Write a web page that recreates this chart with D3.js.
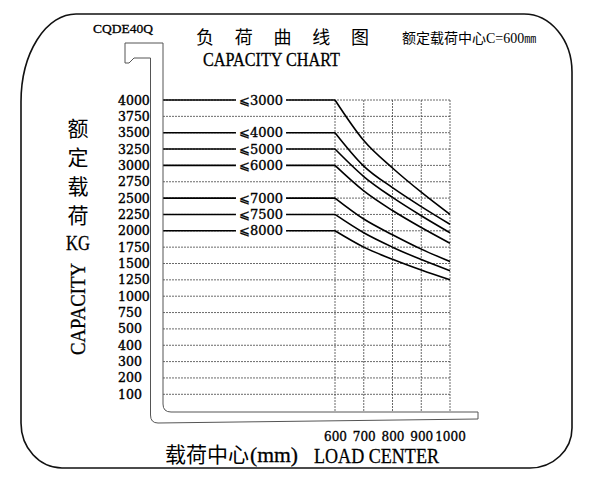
<!DOCTYPE html>
<html>
<head>
<meta charset="utf-8">
<script src="https://cdn.jsdelivr.net/npm/d3@7"></script>
<style>
	body { margin: 0; background: #fff; }
	svg { display: block; }
</style>
</head>
<body>
<div id="chart"></div>
<script>
// load centres (mm) along the bottom
const loadCenters = [600, 700, 800, 900, 1000];

// capacity tick labels (kg), evenly spaced rows, top to bottom
const capacityTicks = [4000, 3750, 3500, 3250, 3000, 2750, 2500, 2250, 2000,
	1750, 1500, 1250, 1000, 750, 500, 400, 300, 200, 100];

// lift height labels (mm)
const heightLabels = ["⩽3000", "⩽4000", "⩽5000", "⩽6000", "⩽7000", "⩽7500", "⩽8000"];

// capacity (kg) at each load centre, one array per lift height
const cap3000 = [4000, 3380, 2960, 2590, 2250];
const cap4000 = [3500, 2990, 2660, 2370, 2100];
const cap5000 = [3250, 2830, 2510, 2230, 1970];
const cap6000 = [3000, 2610, 2310, 2050, 1810];
const cap7000 = [2500, 2180, 1940, 1720, 1530];
const cap7500 = [2250, 1970, 1750, 1560, 1390];
const cap8000 = [2000, 1750, 1565, 1400, 1250];

const yTitleChars = ["额", "定", "载", "荷"];

const width = 591, height = 487;
const plot = {left: 163, top: 100, bottom: 412, row0: 100, rowN: 394.3};
const serif = "'Liberation Serif', 'DejaVu Serif', serif";
const numFont = "'DejaVu Serif', serif";
const cjk = "'Noto Sans CJK SC', sans-serif";

const series = [cap3000, cap4000, cap5000, cap6000, cap7000, cap7500, cap8000]
	.map(function(caps, i) {
		return {
			label: heightLabels[i],
			values: caps.map(function(c, j) { return {lc: loadCenters[j], cap: c}; })
		};
	});

const svg = d3.select("#chart").append("svg")
	.attr("width", width)
	.attr("height", height);

const x = d3.scaleLinear().domain([600, 1000]).range([335, 450]);
const yRow = d3.scalePoint().domain(capacityTicks).range([plot.row0, plot.rowN]);
// piecewise linear scale through the (uneven) tick rows
const y = d3.scaleLinear().domain(capacityTicks).range(capacityTicks.map(yRow));

// outer rounded frame
const fr = {l: 21, r: 572, t: 14, b: 468};
svg.append("path")
	.attr("d", "M" + (fr.l + 55) + "," + fr.t +
		" H" + (fr.r - 48) +
		" A48,58 0 0 1 " + fr.r + "," + (fr.t + 58) +
		" V" + (fr.b - 40) +
		" A42,40 0 0 1 " + (fr.r - 42) + "," + fr.b +
		" H" + (fr.l + 41) +
		" A41,45 0 0 1 " + fr.l + "," + (fr.b - 45) +
		" V" + (fr.t + 88) +
		" A55,88 0 0 1 " + (fr.l + 55) + "," + fr.t + " Z")
	.attr("fill", "none")
	.attr("stroke", "#111")
	.attr("stroke-width", 1.6);

const g = svg.append("g").attr("class", "capacity-chart");

// grid
g.append("g").selectAll("line.hgrid")
	.data(capacityTicks)
	.enter().append("line")
	.attr("x1", plot.left)
	.attr("x2", x(1000))
	.attr("y1", function(d) { return yRow(d); })
	.attr("y2", function(d) { return yRow(d); })
	.attr("stroke", "#444")
	.attr("stroke-width", 0.8)
	.attr("stroke-dasharray", "2,1");

g.append("g").selectAll("line.vgrid")
	.data(loadCenters)
	.enter().append("line")
	.attr("x1", function(d) { return x(d); })
	.attr("x2", function(d) { return x(d); })
	.attr("y1", y(4000))
	.attr("y2", plot.bottom)
	.attr("stroke", "#444")
	.attr("stroke-width", 0.8)
	.attr("stroke-dasharray", "2,1");

// fork outline
svg.append("path")
	.attr("d", "M125,43 H163 V404 Q163,412 171,412 H478 V419 L158,423 Q150.5,423 150.5,415 V58 H134 L129,63 H125 Z")
	.attr("fill", "none")
	.attr("stroke", "#555")
	.attr("stroke-width", 1);

// capacity lines
const line = d3.line()
	.x(function(d) { return x(d.lc); })
	.y(function(d) { return y(d.cap); })
	.curve(d3.curveMonotoneX);

const sg = g.selectAll(".serie")
	.data(series)
	.enter().append("g")
	.attr("class", "serie");

sg.append("line")
	.attr("x1", plot.left)
	.attr("x2", x(600))
	.attr("y1", function(d) { return y(d.values[0].cap); })
	.attr("y2", function(d) { return y(d.values[0].cap); })
	.attr("stroke", "#000")
	.attr("stroke-width", 1.6);

sg.append("path")
	.attr("d", function(d) { return line(d.values); })
	.attr("fill", "none")
	.attr("stroke", "#000")
	.attr("stroke-width", 1.6);

sg.append("rect").attr("fill", "#fff");
const labels = sg.append("text")
	.attr("x", 261)
	.attr("y", function(d) { return y(d.values[0].cap); })
	.attr("dy", "0.36em")
	.attr("text-anchor", "middle")
	.style("font-family", numFont)
	.style("font-size", "13px")
	.style("stroke", "#000")
	.style("stroke-width", 0.35)
	.text(function(d) { return d.label; });

labels.each(function() {
	const b = this.getBBox();
	d3.select(this.previousSibling)
		.attr("x", b.x - 3)
		.attr("y", b.y)
		.attr("width", b.width + 6)
		.attr("height", b.height);
});

// y axis labels (left aligned)
const leftAxis = svg.append("g")
	.attr("transform", "translate(150,0)")
	.call(d3.axisLeft(yRow).tickSize(0));
leftAxis.select(".domain").remove();
leftAxis.selectAll("text")
	.attr("x", -32)
	.attr("text-anchor", "start")
	.style("font-family", numFont)
	.style("font-size", "12.5px")
	.style("stroke", "#000")
	.style("stroke-width", 0.4)
	.attr("fill", "#000");

// x axis labels
const bottomAxis = svg.append("g")
	.attr("transform", "translate(0," + plot.bottom + ")")
	.call(d3.axisBottom(x).tickValues(loadCenters).tickFormat(d3.format("d"))
		.tickSize(0).tickPadding(20));
bottomAxis.select(".domain").remove();
bottomAxis.selectAll("text")
	.style("font-family", numFont)
	.style("font-size", "12px")
	.style("stroke", "#000")
	.style("stroke-width", 0.35)
	.attr("fill", "#000");

// titles
svg.append("text")
	.attr("x", 93).attr("y", 33)
	.attr("textLength", 60).attr("lengthAdjust", "spacingAndGlyphs")
	.style("font-family", serif).style("font-size", "13px")
	.style("stroke", "#000").style("stroke-width", 0.3)
	.text("CQDE40Q");

svg.append("text")
	.attr("x", 196).attr("y", 44)
	.attr("textLength", 173).attr("lengthAdjust", "spacing")
	.style("font-family", cjk).style("font-size", "18px")
	.text("负荷曲线图");

svg.append("text")
	.attr("x", 203).attr("y", 66)
	.attr("textLength", 137).attr("lengthAdjust", "spacingAndGlyphs")
	.style("font-family", serif).style("font-size", "19px")
	.style("stroke", "#000").style("stroke-width", 0.3)
	.text("CAPACITY CHART");

const rated = svg.append("text")
	.attr("x", 402).attr("y", 43)
	.style("font-size", "14px");
rated.append("tspan").style("font-family", cjk).text("额定载荷中心");
rated.append("tspan").style("font-family", serif).text("C=600");
rated.append("tspan").style("font-family", cjk).style("font-size", "12px").text("㎜");

// y title
svg.append("g").selectAll("text")
	.data(yTitleChars)
	.enter().append("text")
	.attr("x", 78)
	.attr("y", function(d, i) { return 136 + i * 29; })
	.attr("text-anchor", "middle")
	.style("font-family", cjk).style("font-size", "21px")
	.text(function(d) { return d; });

svg.append("text")
	.attr("x", 78).attr("y", 250)
	.attr("text-anchor", "middle")
	.attr("textLength", 24).attr("lengthAdjust", "spacingAndGlyphs")
	.style("font-family", serif).style("font-size", "22px")
	.style("stroke", "#000").style("stroke-width", 0.3)
	.text("KG");

svg.append("text")
	.attr("transform", "translate(85,309) rotate(-90)")
	.attr("text-anchor", "middle")
	.attr("textLength", 92).attr("lengthAdjust", "spacingAndGlyphs")
	.style("font-family", serif).style("font-size", "22px")
	.style("stroke", "#000").style("stroke-width", 0.3)
	.text("CAPACITY");

// x title
svg.append("text")
	.attr("x", 165).attr("y", 462)
	.style("font-family", cjk).style("font-size", "21px")
	.text("载荷中心");
svg.append("text")
	.attr("x", 250).attr("y", 462)
	.attr("textLength", 48).attr("lengthAdjust", "spacingAndGlyphs")
	.style("font-family", serif).style("font-size", "20px")
	.style("stroke", "#000").style("stroke-width", 0.3)
	.text("(mm)");
svg.append("text")
	.attr("x", 314).attr("y", 463)
	.attr("textLength", 125).attr("lengthAdjust", "spacingAndGlyphs")
	.style("font-family", serif).style("font-size", "22px")
	.style("stroke", "#000").style("stroke-width", 0.3)
	.text("LOAD CENTER");
</script>
</body>
</html>
